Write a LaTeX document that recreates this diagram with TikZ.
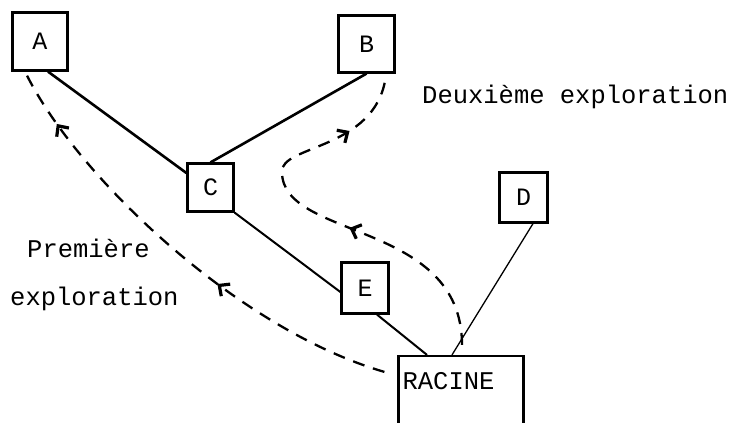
\documentclass[tikz,border=0pt]{standalone}
\usepackage{fontspec}
\newfontfamily\tw{Liberation Mono}
\usetikzlibrary{arrows.meta,decorations.markings}
\tikzset{
  box/.style={draw, line width=2.2pt, inner sep=0pt, font=\tw\fontsize{25}{28}\selectfont},
  txt/.style={inner sep=0pt, anchor=base west, font=\tw\fontsize{25.5}{30}\selectfont},
  thickedge/.style={line width=2.6pt},
  midedge/.style={line width=2pt},
  thinedge/.style={line width=1.3pt},
  explo/.style={line width=2.3pt, dash pattern=on 12pt off 9pt},
  chev/.tip={Straight Barb[length=8pt,width=15pt,line width=3.2pt]}
}
\newcommand\chevmark{\pgfsetdash{}{0pt}\pgfsetlinewidth{3.2pt}\arrow{chev}}
\begin{document}
\begin{tikzpicture}[x=1pt,y=-1pt]
\useasboundingbox (0,0) rectangle (739,423);
\clip (0,0) rectangle (739,423);
% nodes
\node[box, minimum width=55pt, minimum height=58pt] (A) at (40,41.5) {A};
\node[box, minimum width=56pt, minimum height=57pt] (B) at (366.5,44) {B};
\node[box, minimum width=46pt, minimum height=48pt] (C) at (210.5,187.5) {C};
\node[box, minimum width=48pt, minimum height=50pt] (D) at (523.5,197.5) {D};
\node[box, minimum width=47pt, minimum height=51pt] (E) at (365,288) {E};
\node[box, minimum width=125pt, minimum height=100pt,
      label={[anchor=north west, inner sep=0pt, xshift=5pt, yshift=-17pt, font=\tw\fontsize{25.5}{30}\selectfont]north west:RACINE}] (R) at (461,406) {};
% texts
\node[txt] (t2) at (422,103) {Deuxième exploration};
\node[txt] (t1a) at (27,257) {Première};
\node[txt] (t1b) at (10,305) {exploration};
% tree edges
\draw[thickedge] ([xshift=8pt]A.south) -- ([yshift=14.5pt]C.west);
\draw[thickedge] (B.south) -- (C.north);
\draw[midedge] (C.south east) -- ([yshift=-4pt]E.west);
\draw[midedge] ([xshift=12pt]E.south) -- ([xshift=-34pt]R.north);
\draw[thinedge] ([xshift=9.5pt]D.south) -- ([xshift=-9pt]R.north);
% explorations
\draw[explo, postaction={decorate}, decoration={markings,
    mark=at position 0.40 with {\chevmark},
    mark=at position 0.88 with {\chevmark}}]
  ([xshift=-13pt,yshift=-17pt]R.north west) .. controls (240,330) and (80,180) .. ([xshift=-13pt,yshift=-4pt]A.south);
\draw[explo, postaction={decorate}, decoration={markings,
    mark=at position 0.42 with {\chevmark},
    mark=at position 0.84 with {\chevmark}}]
  ([xshift=1pt,yshift=10pt]R.north) .. controls (462,220) and (282,240) .. (282,172)
  .. controls (280,145) and (375,150) .. ([xshift=-10pt,yshift=-4pt]B.south east);
\end{tikzpicture}
\end{document}
